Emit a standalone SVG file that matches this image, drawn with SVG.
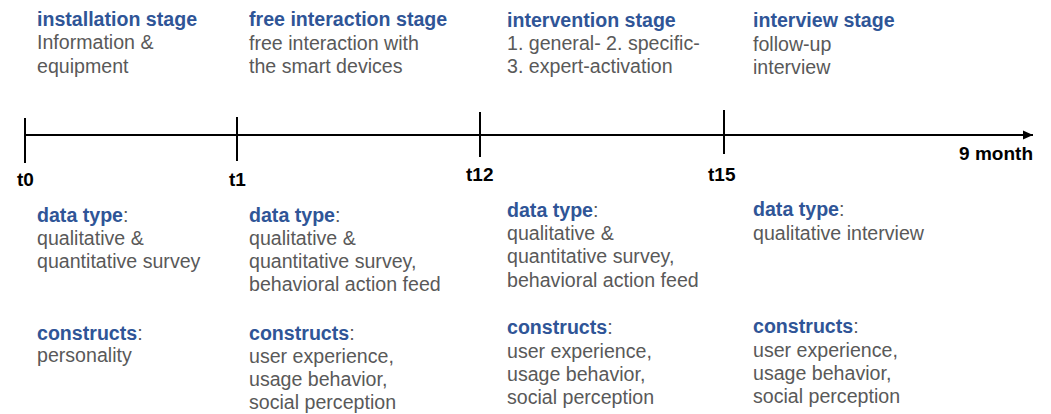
<svg xmlns="http://www.w3.org/2000/svg" width="1051" height="414" viewBox="0 0 1051 414">
<style>
text{font-family:"Liberation Sans",Arial,sans-serif;font-size:19.6px}
.h{fill:#2F5597;font-weight:bold}
.b{fill:#595959}
.t{fill:#000;font-weight:bold;font-size:19px}
.ln{stroke:#000;stroke-width:2;fill:none}
</style>
<defs>
<marker id="arr" viewBox="0 0 10 10" refX="10" refY="5" markerWidth="5" markerHeight="5" orient="auto" markerUnits="strokeWidth">
<path d="M0,0.5 L10,5 L0,9.5 z" fill="#000"/>
</marker>
</defs>
<rect width="1051" height="414" fill="#fff"/>
<g id="connectors">
<line class="ln" x1="25" y1="135" x2="1033" y2="135" marker-end="url(#arr)"/>
<line class="ln" x1="25" y1="118" x2="25" y2="163"/>
<line class="ln" x1="237" y1="117" x2="237" y2="161"/>
<line class="ln" x1="480" y1="112" x2="480" y2="157"/>
<line class="ln" x1="724" y1="110" x2="724" y2="154"/>
</g>
<g id="time-labels">
<text class="t" x="17" y="186">t0</text>
<text class="t" x="229" y="186">t1</text>
<text class="t" x="466" y="181">t12</text>
<text class="t" x="708" y="181">t15</text>
<text class="t" x="1033" y="160" text-anchor="end">9 month</text>
</g>
<g id="stage-installation">
<text class="h" x="37" y="26">installation stage</text>
<text class="b" x="37" y="49">Information &amp;</text>
<text class="b" x="37" y="73">equipment</text>
</g>
<g id="stage-free">
<text class="h" x="249" y="26">free interaction stage</text>
<text class="b" x="249" y="50">free interaction with</text>
<text class="b" x="249" y="73">the smart devices</text>
</g>
<g id="stage-intervention">
<text class="h" x="507" y="27">intervention stage</text>
<text class="b" x="507" y="50">1. general- 2. specific-</text>
<text class="b" x="507" y="73">3. expert-activation</text>
</g>
<g id="stage-interview">
<text class="h" x="753" y="27">interview stage</text>
<text class="b" x="753" y="51">follow-up</text>
<text class="b" x="753" y="74">interview</text>
</g>
<g id="data-t0">
<text x="37" y="222"><tspan class="h">data type</tspan><tspan class="b">:</tspan></text>
<text class="b" x="37" y="245">qualitative &amp;</text>
<text class="b" x="37" y="268">quantitative survey</text>
<text x="37" y="340"><tspan class="h">constructs</tspan><tspan class="b">:</tspan></text>
<text class="b" x="37" y="362">personality</text>
</g>
<g id="data-t1">
<text x="249" y="222"><tspan class="h">data type</tspan><tspan class="b">:</tspan></text>
<text class="b" x="249" y="245">qualitative &amp;</text>
<text class="b" x="249" y="268">quantitative survey,</text>
<text class="b" x="249" y="291">behavioral action feed</text>
<text x="249" y="340"><tspan class="h">constructs</tspan><tspan class="b">:</tspan></text>
<text class="b" x="249" y="363">user experience,</text>
<text class="b" x="249" y="386">usage behavior,</text>
<text class="b" x="249" y="409">social perception</text>
</g>
<g id="data-t12">
<text x="507" y="217"><tspan class="h">data type</tspan><tspan class="b">:</tspan></text>
<text class="b" x="507" y="240">qualitative &amp;</text>
<text class="b" x="507" y="263">quantitative survey,</text>
<text class="b" x="507" y="287">behavioral action feed</text>
<text x="507" y="334"><tspan class="h">constructs</tspan><tspan class="b">:</tspan></text>
<text class="b" x="507" y="358">user experience,</text>
<text class="b" x="507" y="381">usage behavior,</text>
<text class="b" x="507" y="404">social perception</text>
</g>
<g id="data-t15">
<text x="753" y="216"><tspan class="h">data type</tspan><tspan class="b">:</tspan></text>
<text class="b" x="753" y="240">qualitative interview</text>
<text x="753" y="333"><tspan class="h">constructs</tspan><tspan class="b">:</tspan></text>
<text class="b" x="753" y="357">user experience,</text>
<text class="b" x="753" y="380">usage behavior,</text>
<text class="b" x="753" y="403">social perception</text>
</g>
</svg>
